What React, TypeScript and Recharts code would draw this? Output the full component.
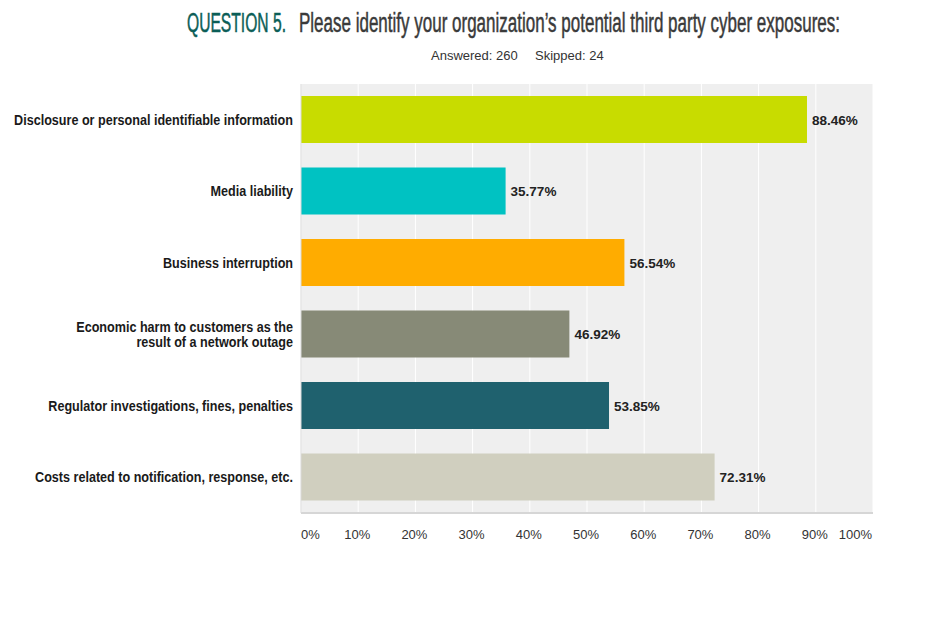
import { BarChart, Bar, XAxis, YAxis, CartesianGrid, LabelList, Cell } from 'recharts'

// survey answers, in percent
const categories = [
  'Disclosure or personal identifiable information',
  'Media liability',
  'Business interruption',
  'Economic harm to customers as the\nresult of a network outage',
  'Regulator investigations, fines, penalties',
  'Costs related to notification, response, etc.',
]
const values = [88.46, 35.77, 56.54, 46.92, 53.85, 72.31]
const barColors = ['#c8dc00', '#00c2c2', '#ffac00', '#878a77', '#1f616e', '#d0cfbf']
const xTicks = [0, 10, 20, 30, 40, 50, 60, 70, 80, 90, 100]

const data = categories.map((name, i) => ({ name, value: values[i] }))

const FONT = '"Liberation Sans", Arial, sans-serif'

const CategoryTick = ({ x, y, payload }: any) => {
  const lines = String(payload.value).split('\n')
  const lh = 15
  const startY = y - ((lines.length - 1) * lh) / 2
  return (
    <g transform={`translate(${x},${startY}) scale(0.9,1)`}>
      <text
        x={0}
        y={0}
        textAnchor="end"
        fontFamily={FONT}
        fontSize={14}
        fontWeight="bold"
        fill="#1a1a1a"
      >
        {lines.map((l, i) => (
          <tspan key={i} x={0} dy={i === 0 ? 5 : lh}>
            {l}
          </tspan>
        ))}
      </text>
    </g>
  )
}

const PercentTick = ({ x, y, payload }: any) => {
  const v = payload.value
  const anchor = v === 0 ? 'start' : v === 100 ? 'end' : 'middle'
  return (
    <text
      x={v === 0 ? x : x - 1}
      y={y + 18}
      textAnchor={anchor}
      fontFamily={FONT}
      fontSize={13}
      fill="#333"
    >
      {v}%
    </text>
  )
}

const ValueLabel = ({ x, y, width, height, value }: any) => (
  <text
    x={x + width + 5}
    y={y + height / 2 + 5}
    fontFamily={FONT}
    fontSize={13.5}
    fontWeight="bold"
    fill="#222"
  >
    {value.toFixed(2)}%
  </text>
)

export default function App() {
  return (
    <div style={{ position: 'absolute', left: 0, top: 0, width: 934, height: 617, background: '#fff' }}>
      <svg width={934} height={70} style={{ position: 'absolute', left: 0, top: 0 }}>
        {/* condensed look: small font stretched vertically */}
        <g transform="translate(187,32) scale(1,1.75)">
          <text
            x={0}
            y={0}
            fontFamily={FONT}
            fontSize={16}
            fill="#0b5e57"
            stroke="#0b5e57"
            strokeWidth={0.3}
            textLength={99}
            lengthAdjust="spacingAndGlyphs"
          >
            QUESTION 5.
          </text>
        </g>
        <g transform="translate(299,32) scale(1,1.75)">
          <text
            x={0}
            y={0}
            fontFamily={FONT}
            fontSize={16}
            fill="#3a3a3a"
            stroke="#3a3a3a"
            strokeWidth={0.3}
            textLength={541}
            lengthAdjust="spacingAndGlyphs"
          >
            Please identify your organization’s potential third party cyber exposures:
          </text>
        </g>
        <text x={431} y={60} fontFamily={FONT} fontSize={13} fill="#333">
          Answered: 260
        </text>
        <text x={535} y={60} fontFamily={FONT} fontSize={13} fill="#333">
          Skipped: 24
        </text>
      </svg>
      <BarChart
        width={934}
        height={617}
        data={data}
        layout="vertical"
        margin={{ top: 84, right: 61, bottom: 74, left: 0 }}
      >
        <CartesianGrid horizontal={false} stroke="#ffffff" fill="#efefef" />
        <XAxis
          type="number"
          domain={[0, 100]}
          ticks={xTicks}
          tick={<PercentTick />}
          tickLine={false}
          axisLine={{ stroke: '#d6d6d6', strokeWidth: 2 }}
          height={30}
          interval={0}
        />
        <YAxis
          type="category"
          dataKey="name"
          width={301}
          tick={<CategoryTick />}
          tickLine={false}
          axisLine={{ stroke: '#d9d9d9' }}
          interval={0}
        />
        <Bar dataKey="value" barSize={47} isAnimationActive={false}>
          {data.map((d, i) => (
            <Cell key={d.name} fill={barColors[i]} />
          ))}
          <LabelList dataKey="value" content={<ValueLabel />} />
        </Bar>
      </BarChart>
    </div>
  )
}
